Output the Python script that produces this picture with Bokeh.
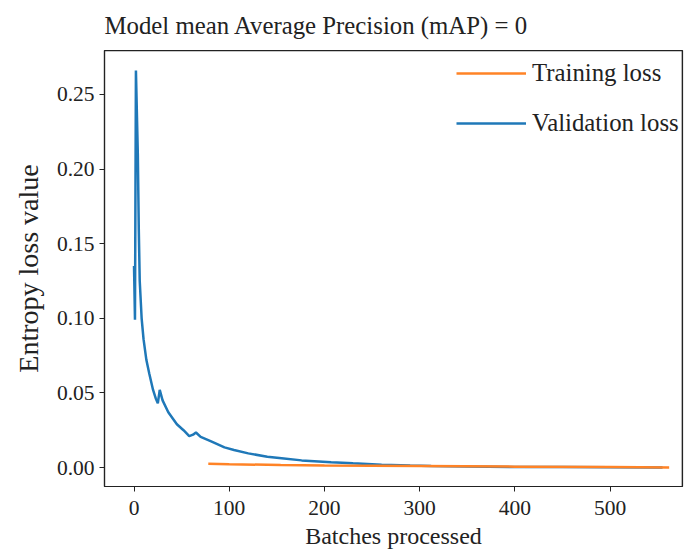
from bokeh.plotting import figure
from bokeh.models import Range1d, FixedTicker, NumeralTickFormatter, Legend, LegendItem, Span
from bokeh.embed import file_html
from bokeh.resources import INLINE

# ---- data ----
val_batches = [0, 1, 2, 4, 5, 6, 8, 10, 13, 16, 20, 23, 25, 27, 30, 36, 45, 52, 58,
               62, 65, 70, 81, 95, 105, 120, 140, 155, 176, 207, 230, 260, 290, 312,
               350, 400, 450, 500, 555]
val_loss = [0.135, 0.099, 0.266, 0.21, 0.16, 0.125, 0.100, 0.086, 0.072, 0.063, 0.052,
            0.046, 0.043, 0.052, 0.045, 0.037, 0.029, 0.025, 0.021, 0.022, 0.0235,
            0.0205, 0.0175, 0.0135, 0.0118, 0.0095, 0.0072, 0.0062, 0.0048, 0.0036,
            0.0028, 0.0019, 0.0013, 0.0010, 0.0007, 0.0004, 0.0003, 0.0002, 0.0001]

train_batches = [78, 100, 154, 200, 300, 400, 500, 562]
train_loss = [0.0025, 0.0022, 0.0017, 0.0014, 0.0010, 0.0006, 0.0003, 0.0001]

x_ticks = [0, 100, 200, 300, 400, 500]
y_ticks = [0.00, 0.05, 0.10, 0.15, 0.20, 0.25]
x_limits = [-31, 576]
y_limits = [-0.0127, 0.2794]

title_text = "Model mean Average Precision (mAP) = 0"
x_label = "Batches processed"
y_label = "Entropy loss value"
series_names = ["Training loss", "Validation loss"]

FONT = "Liberation Serif"
TXT = "#222222"
EDGE = "#222222"

p = figure(width=684, height=551, output_backend="svg", toolbar_location=None,
           x_range=Range1d(*x_limits), y_range=Range1d(*y_limits),
           min_border_left=104, min_border_right=2, min_border_top=50,
           min_border_bottom=64)

p.background_fill_color = "white"
p.border_fill_color = "white"
p.outline_line_color = EDGE
p.outline_line_width = 1.2
p.xgrid.visible = False
p.ygrid.visible = False

p.title.text = title_text
p.title.text_font = FONT
p.title.text_font_style = "normal"
p.title.text_font_size = "24.8px"
p.title.text_color = TXT
p.title.align = "left"
p.title.vertical_align = "top"
p.title.standoff = 20

vr = p.line(val_batches, val_loss, line_color="#1f78b8", line_width=2.5)
tr = p.line(train_batches, train_loss, line_color="#ff8326", line_width=2.5)

# top and right frame edges
p.add_layout(Span(location=y_limits[1], dimension="width", line_color=EDGE, line_width=1.5))
p.add_layout(Span(location=x_limits[1], dimension="height", line_color=EDGE, line_width=1.5))

for ax in (p.xaxis[0], p.yaxis[0]):
    ax.axis_line_color = EDGE
    ax.axis_line_width = 1.2
    ax.major_tick_line_color = EDGE
    ax.major_tick_out = 5
    ax.major_tick_in = 0
    ax.minor_tick_line_color = None
    ax.major_label_text_font = FONT
    ax.major_label_text_font_size = "21.5px"
    ax.major_label_text_color = TXT
    ax.axis_label_text_font = FONT
    ax.axis_label_text_font_style = "normal"
    ax.axis_label_text_color = TXT

p.xaxis.ticker = FixedTicker(ticks=x_ticks)
p.yaxis.ticker = FixedTicker(ticks=y_ticks)
p.yaxis.formatter = NumeralTickFormatter(format="0.00")
p.xaxis.axis_label = x_label
p.yaxis.axis_label = y_label
p.xaxis.axis_label_text_font_size = "24px"
p.yaxis.axis_label_text_font_size = "28px"
p.xaxis.major_label_standoff = 9
p.xaxis.axis_label_standoff = 5
p.yaxis.major_label_standoff = 5
p.yaxis.axis_label_standoff = 10

legend = Legend(items=[LegendItem(label=series_names[0], renderers=[tr]),
                       LegendItem(label=series_names[1], renderers=[vr])],
                location=(352, 349), orientation="vertical",
                glyph_width=70, glyph_height=28, label_height=28,
                label_standoff=6, spacing=22, padding=0, margin=0,
                border_line_alpha=0, background_fill_alpha=0,
                label_text_font=FONT, label_text_font_size="24.8px",
                label_text_color=TXT)
p.add_layout(legend)

open("out.html", "w").write(file_html(p, INLINE))
